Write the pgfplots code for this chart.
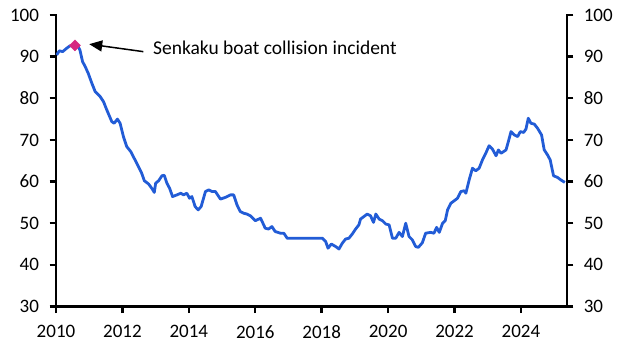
\documentclass[border=0pt]{standalone}
\usepackage{fontspec}
\setmainfont{Carlito}
\usepackage{pgfplots}
\pgfplotsset{compat=1.18}
\usetikzlibrary{arrows.meta}
\definecolor{lineblue}{RGB}{34,92,214}
\definecolor{diam}{RGB}{214,38,128}
\pgfplotstableread{
x y
2010.02 90.4
2010.10 91.4
2010.20 91.2
2010.32 92.0
2010.42 92.6
2010.57 92.7
2010.67 92.4
2010.72 91.6
2010.80 88.8
2010.88 87.6
2010.97 86.0
2011.08 83.6
2011.18 81.6
2011.33 80.4
2011.43 79.2
2011.53 77.2
2011.68 74.4
2011.75 74.0
2011.85 75.0
2011.93 74.0
2012.03 70.8
2012.13 68.4
2012.25 67.2
2012.38 65.2
2012.48 63.6
2012.58 62.0
2012.66 60.2
2012.79 59.4
2012.90 58.2
2012.96 57.4
2013.00 59.6
2013.09 60.2
2013.19 61.4
2013.26 61.5
2013.34 59.6
2013.42 58.4
2013.51 56.4
2013.64 56.8
2013.76 57.2
2013.84 56.8
2013.94 57.2
2014.02 56.0
2014.09 56.4
2014.19 54.0
2014.28 53.2
2014.37 54.0
2014.50 57.6
2014.60 58.0
2014.70 57.6
2014.80 57.6
2014.95 55.8
2015.10 56.2
2015.25 56.8
2015.35 56.8
2015.45 54.4
2015.55 52.8
2015.65 52.4
2015.75 52.2
2015.85 51.8
2016.00 50.6
2016.16 51.2
2016.30 48.8
2016.40 48.6
2016.50 49.2
2016.60 48.0
2016.76 47.6
2016.86 47.6
2016.96 46.4
2018.02 46.4
2018.12 45.6
2018.19 44.0
2018.29 45.0
2018.42 44.4
2018.52 43.8
2018.62 45.2
2018.72 46.2
2018.82 46.4
2018.92 47.4
2019.02 48.6
2019.12 49.6
2019.17 51.0
2019.27 51.6
2019.37 52.2
2019.47 51.8
2019.56 50.2
2019.63 52.2
2019.73 51.0
2019.83 50.6
2019.93 49.8
2020.03 49.6
2020.13 46.4
2020.23 46.4
2020.33 47.8
2020.43 46.8
2020.53 50.0
2020.63 46.8
2020.73 46.0
2020.83 44.4
2020.91 44.2
2021.03 45.3
2021.13 47.6
2021.28 47.8
2021.38 47.6
2021.46 49.0
2021.54 47.8
2021.64 50.0
2021.72 50.6
2021.79 53.2
2021.89 54.8
2021.99 55.4
2022.09 56.0
2022.19 57.6
2022.29 57.8
2022.34 57.2
2022.44 60.4
2022.54 63.2
2022.64 62.6
2022.74 63.2
2022.84 65.2
2022.94 66.8
2023.04 68.6
2023.14 67.8
2023.25 66.2
2023.32 67.6
2023.40 66.8
2023.55 67.6
2023.62 69.6
2023.70 72.0
2023.80 71.2
2023.90 70.8
2023.98 72.0
2024.08 71.8
2024.15 72.6
2024.22 75.2
2024.30 74.0
2024.40 73.8
2024.50 72.8
2024.62 71.2
2024.70 67.6
2024.80 66.4
2024.88 65.2
2024.98 61.4
2025.10 61.0
2025.20 60.4
2025.32 59.8
}\datatable
\begin{document}
\begin{tikzpicture}
\pgfplotsset{
  base/.style={
    scale only axis, width=510.8bp, height=291.5bp,
    xmin=2010, xmax=2025.38, ymin=30, ymax=100,
    axis line style={black, line width=2.6bp, line cap=rect, -},
    ticklabel style={font=\fontsize{19bp}{22bp}\selectfont},
    /pgf/number format/assume math mode=true,
    ytick={30,40,...,100},
    xtick={2010,2012,...,2024},
    /pgf/number format/1000 sep={},
    clip=false,
  },
  tk/.style={
    tick align=outside,
    tickwidth=6.5bp,
    xtick style={black, line width=2.4bp},
    ytick style={black, line width=2.4bp},
  }
}
\begin{axis}[base, axis x line*=bottom, axis y line*=left, tk,
  xticklabel style={yshift=-9bp}, yticklabel style={xshift=-7bp}]
\addplot[lineblue, line width=2.8bp, line join=round] table[x=x,y=y] {\datatable};
\addplot[only marks, mark=square*, mark size=3.9bp, mark options={rotate=45, fill=diam, draw=diam}] coordinates {(2010.57,92.7)};
\draw[black, line width=1.5bp, -{Triangle[length=13bp,width=11bp]}] (axis cs:2012.63,91.2) -- (axis cs:2011.0,93.0);
\node[anchor=base west, inner sep=0pt, font=\fontsize{19.5bp}{23bp}\selectfont] at (axis cs:2012.92,90.4) {Senkaku boat collision incident};
\end{axis}
\begin{axis}[base, axis x line=none, axis y line*=right, tk, yticklabel style={xshift=7bp}]
\end{axis}
\path[use as bounding box] ([shift={(-56bp,-47bp)}]current axis.south west) rectangle ([shift={(62.2bp,15bp)}]current axis.north east);
\end{tikzpicture}
\end{document}
